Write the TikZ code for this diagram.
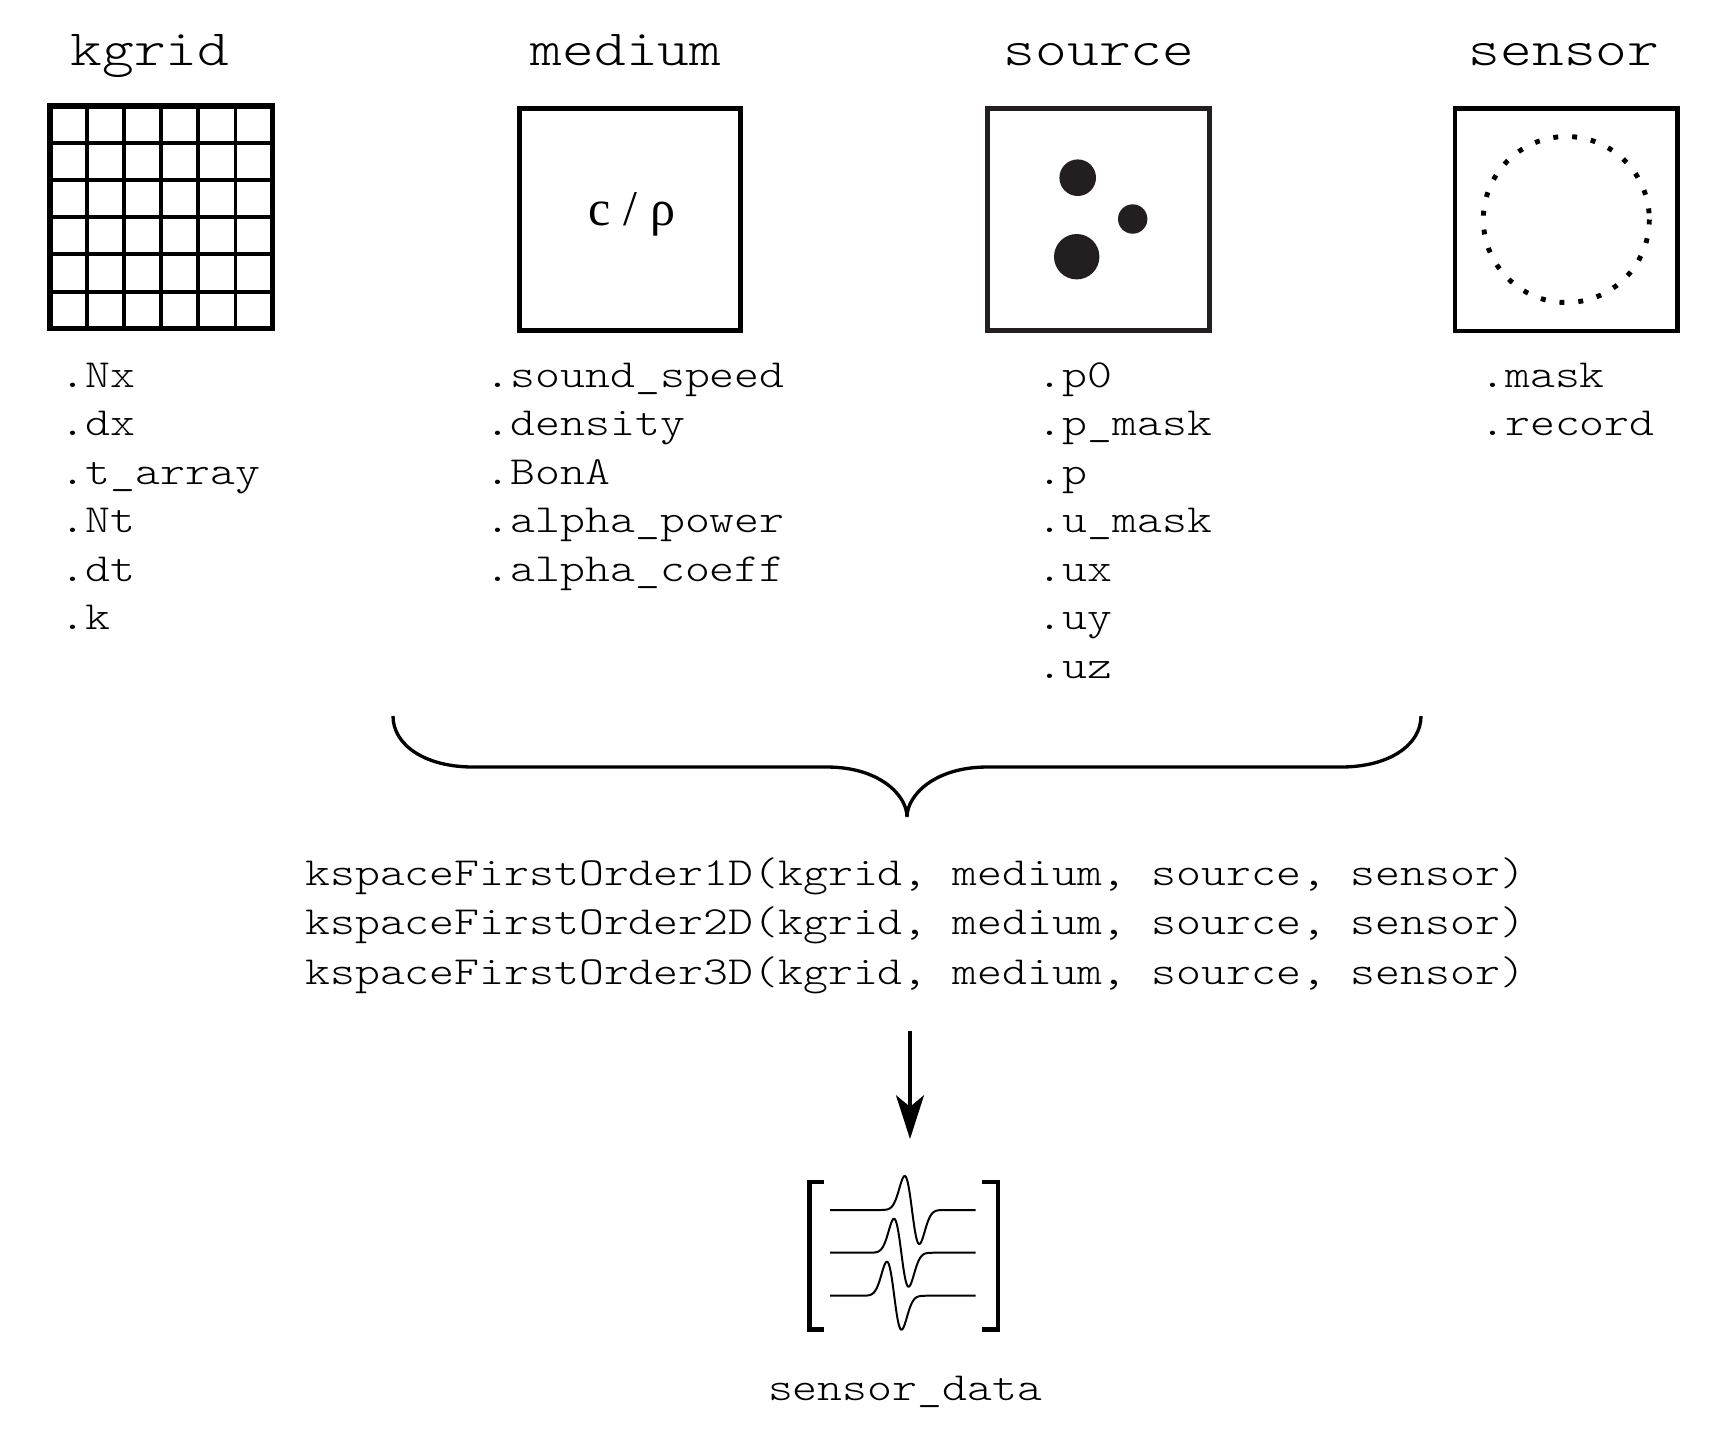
\documentclass[tikz,border=0pt]{standalone}
\usepackage{fontspec}
\newfontfamily\cmono{lmmonolt10-regular.otf}[FakeStretch=1.19]
\newfontfamily\tserif{Liberation Serif}
\usetikzlibrary{arrows.meta}
\definecolor{dgray}{HTML}{231F20}
\begin{document}
\begin{tikzpicture}[x=0.02cm,y=-0.02cm,
  listtxt/.style={font=\cmono\fontsize{22.68pt}{27pt}\selectfont, inner sep=0pt, anchor=base west},
  titletxt/.style={font=\cmono\fontsize{28.91pt}{34pt}\selectfont, inner sep=0pt, anchor=base},
  frame/.style={line width=2.66pt, line join=miter},
  gridline/.style={line width=2.27pt},
  wave/.style={line width=1.13pt, line join=round},
  bracketline/.style={line width=2.5pt, line join=miter},
]
\useasboundingbox (0,0) rectangle (1730,1445);

% titles
\node[titletxt] (tkgrid) at (150,65) {kgrid};
\node[titletxt] (tmedium) at (626,65) {medium};
\node[titletxt] (tsource) at (1099,65) {source};
\node[titletxt] (tsensor) at (1564,65) {sensor};

% kgrid icon
\foreach \i in {1,...,5} {
  \draw[gridline] ({50+37.1*\i},106) -- ({50+37.1*\i},328.6);
  \draw[gridline] (50,{106+37.1*\i}) -- (272.6,{106+37.1*\i});
}
\draw[frame, line width=2.9pt] (50,106) rectangle (272.6,328.6);

% medium icon
\draw[frame] (519.4,108.4) rectangle (740.6,330.6);
\node[font=\tserif\fontsize{28.5pt}{30pt}\selectfont, inner sep=0pt, anchor=base] (crho) at (632,225) {c / ρ};

% source icon
\draw[frame, draw=dgray] (987.5,108.5) rectangle (1209.5,330.5);
\fill[dgray] (1077.7,177.7) circle[radius=18.3];
\fill[dgray] (1132.7,219) circle[radius=14.7];
\fill[dgray] (1076.7,256.7) circle[radius=22.7];

% sensor icon
\draw[frame] (1455,108.4) rectangle (1677.7,331);
\draw[line width=2.8pt, dash pattern=on 2.8pt off 7.96pt] (1566.3,219.5) circle[radius=83];

% lists
\foreach \t [count=\i] in {.Nx,.dx,.t\_array,.Nt,.dt,.k}
  \node[listtxt] (kg\i) at (60.5,{387+48.5*(\i-1)}) {\t};
\foreach \t [count=\i] in {.sound\_speed,.density,.BonA,.alpha\_power,.alpha\_coeff}
  \node[listtxt] (md\i) at (485.5,{387+48.5*(\i-1)}) {\t};
\foreach \t [count=\i] in {.p0,.p\_mask,.p,.u\_mask,.ux,.uy,.uz}
  \node[listtxt] (sr\i) at (1037.5,{387+48.5*(\i-1)}) {\t};
\foreach \t [count=\i] in {.mask,.record}
  \node[listtxt] (sn\i) at (1480,{387+48.5*(\i-1)}) {\t};

% brace
\coordinate (bl) at (393,716);
\coordinate (br) at (1421,716);
\coordinate (btip) at (907,817);
\draw[line width=1.9pt] (bl) .. controls (393,745) and (425,767) .. (473,767) -- (827,767)
  .. controls (879,767) and (907,795) .. (btip)
  .. controls (907,795) and (935,767) .. (987,767) -- (1341,767)
  .. controls (1389,767) and (1421,745) .. (br);

% function calls
\node[listtxt] (f1) at (305,885) {kspaceFirstOrder1D(kgrid, medium, source, sensor)};
\node[listtxt] (f2) at (305,934.5) {kspaceFirstOrder2D(kgrid, medium, source, sensor)};
\node[listtxt] (f3) at (305,984) {kspaceFirstOrder3D(kgrid, medium, source, sensor)};

% arrow
\coordinate (atop) at (910,1031);
\coordinate (abot) at (910,1139);
\draw[line width=2.27pt, -{Stealth[length=24.9pt, width=15.9pt, inset=6.6pt]}] (atop) -- (abot);

% sensor data matrix
\draw[bracketline] (824,1182.2) -- (809.5,1182.2) -- (809.5,1329.5) -- (824,1329.5);
\draw[bracketline] (981.7,1182.2) -- (997.8,1182.2) -- (997.8,1329.5) -- (981.7,1329.5);
\foreach \yb/\cx in {1210/912, 1252.7/901.3, 1295.7/894.2}
  \draw[wave] (830,\yb) -- ({\cx-35},\yb) -- plot[domain=-35:35, samples=120, smooth]
    ({\cx+\x},{\yb+34*(\x/7.3)*exp((1-(\x/7.3)*(\x/7.3))/2)}) -- (975.7,\yb);

\node[listtxt, anchor=base] (sd) at (905,1400) {sensor\_data};
\end{tikzpicture}
\end{document}
